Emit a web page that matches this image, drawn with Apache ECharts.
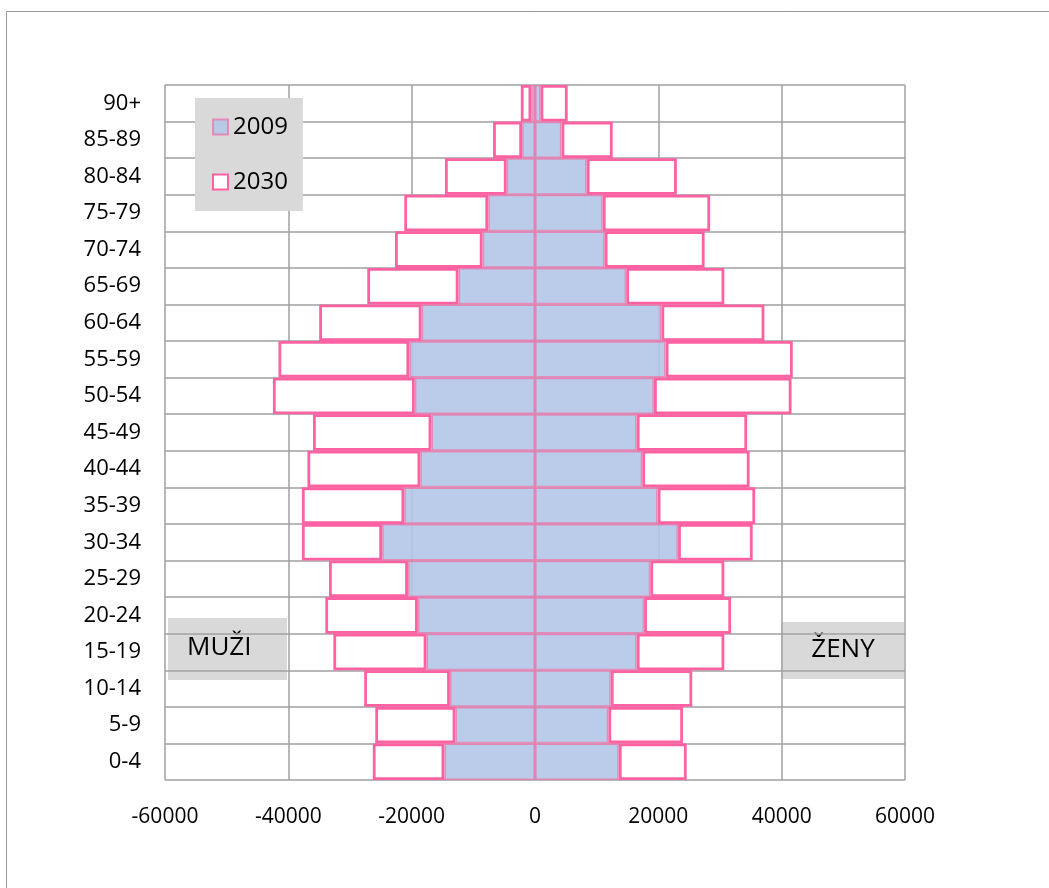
<!DOCTYPE html>
<html>
<head>
<meta charset="utf-8">
<script src="https://cdn.jsdelivr.net/npm/echarts@6/dist/echarts.min.js"></script>
<style>
html,body{margin:0;padding:0;background:#fff;}
#chart{width:1049px;height:888px;}
</style>
</head>
<body>
<div id="chart"></div>
<script>
const categories = ['0-4','5-9','10-14','15-19','20-24','25-29','30-34','35-39','40-44','45-49','50-54','55-59','60-64','65-69','70-74','75-79','80-84','85-89','90+'];
const men2009   = [14700,12900,13800,17600,19000,20600,24800,21200,18600,16800,19500,20400,18400,12400,8500,7600,4600,2100,600];
const men2030   = [26300,25900,27700,32700,34000,33400,37800,37800,36900,36000,42500,41600,35000,27200,22700,21200,14600,6800,2300];
const women2009 = [13600,11900,12300,16500,17700,18700,23200,19900,17400,16500,19300,21200,20500,14800,11300,11000,8400,4300,900];
const women2030 = [24600,24000,25500,30700,31800,30700,35300,35700,34800,34400,41600,41800,37200,30700,27500,28400,23000,12600,5300];
const xTicks = {min:-60000, max:60000, interval:20000};

const FONT = 'Open Sans';
const PINK = '#FF62A2';
const BLUE = 'rgba(178,198,231,0.9)';
const PINK_SOFT = 'rgba(235,120,175,0.8)';

const chart = echarts.init(document.getElementById('chart'), null, {renderer:'canvas'});

const style2009 = {color: BLUE, borderColor: PINK_SOFT, borderWidth: 1.6};
const style2030 = {color: '#FFFFFF', borderColor: PINK, borderWidth: 2.8};

const option = {
  animation:false,
  backgroundColor:'#fff',
  textStyle:{fontFamily:FONT},
  grid:{left:165, right:144, top:85, bottom:108, containLabel:false},
  legend:{
    data:['2009','2030'],
    orient:'vertical',
    left:195, top:98,
    backgroundColor:'#D9D9D9',
    padding:[17,15,17,17],
    itemGap:31,
    itemWidth:15, itemHeight:15,
    icon:'rect',
    textStyle:{fontFamily:FONT, fontSize:24, color:'#000'},
    selectedMode:false
  },
  xAxis:{
    type:'value', min:xTicks.min, max:xTicks.max, interval:xTicks.interval,
    axisLine:{show:false}, axisTick:{show:false},
    axisLabel:{fontFamily:FONT, fontSize:21, color:'#000', margin:27, formatter:v=>String(v)},
    splitLine:{show:true, lineStyle:{color:'#A0A0A0', width:1.5}}
  },
  yAxis:{
    type:'category', data:categories, position:'left',
    axisLine:{show:false}, axisTick:{show:false},
    axisLabel:{fontFamily:FONT, fontSize:22, color:'#000', margin:24},
    splitLine:{show:true, lineStyle:{color:'#A0A0A0', width:1.5}}
  },
  series:[
    {name:'2009', type:'bar', stack:'all', barCategoryGap:'0%', itemStyle:style2009,
     data:men2009.map(v=>-v)},
    {name:'2009', type:'bar', stack:'all', barCategoryGap:'0%', itemStyle:style2009,
     data:women2009},
    {name:'2030', type:'bar', stack:'all', barCategoryGap:'0%', itemStyle:style2030,
     data:men2030.map((v,i)=>-(v-men2009[i]))},
    {name:'2030', type:'bar', stack:'all', barCategoryGap:'0%', itemStyle:style2030,
     data:women2030.map((v,i)=>v-women2009[i])}
  ],
  graphic:[
    {type:'rect', left:4, top:9, z:-10, silent:true,
     shape:{x:0, y:0, width:1100, height:1000},
     style:{fill:'none', stroke:'#9A9A9A', lineWidth:1}},
    {type:'group', left:168, top:618, z:100, children:[
      {type:'rect', shape:{x:0,y:0,width:119,height:62}, style:{fill:'#D9D9D9'}},
      {type:'text', x:19, y:30, style:{text:'MUŽI', font:'26px "Open Sans"', fill:'#000', verticalAlign:'middle'}}
    ]},
    {type:'group', left:781, top:622, z:100, children:[
      {type:'rect', shape:{x:0,y:0,width:123,height:57}, style:{fill:'#D9D9D9'}},
      {type:'text', x:62, y:28, style:{text:'ŽENY', font:'26px "Open Sans"', fill:'#000', align:'center', verticalAlign:'middle'}}
    ]}
  ]
};
chart.setOption(option);
</script>
</body>
</html>
